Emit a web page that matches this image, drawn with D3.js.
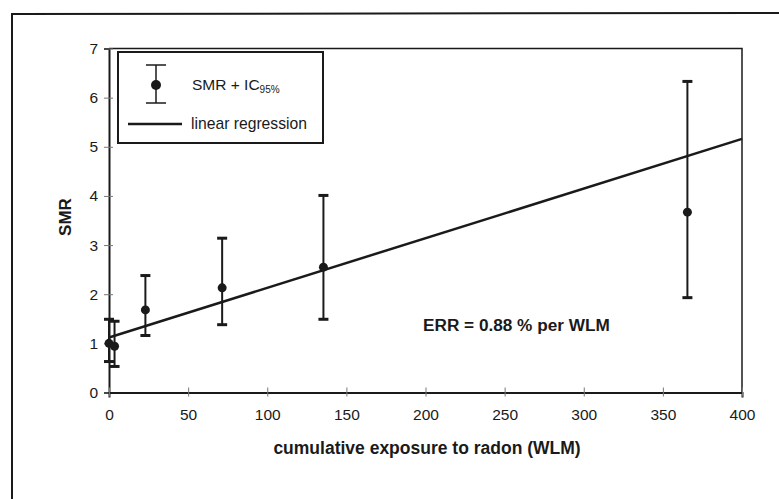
<!DOCTYPE html>
<html><head><meta charset="utf-8">
<script src="https://cdn.jsdelivr.net/npm/d3@7"></script>
<style>
html,body{margin:0;padding:0;background:#fff;}
svg{display:block;font-family:"Liberation Sans",Arial,sans-serif;}
</style></head>
<body>
<svg id="chart" width="779" height="499"></svg>
<script>
const exposure = [0, 3.5, 23, 71.5, 135.5, 365.5];
const smr      = [1.0, 0.94, 1.68, 2.13, 2.55, 3.67];
const ciLow    = [0.63, 0.53, 1.16, 1.38, 1.49, 1.93];
const ciHigh   = [1.49, 1.45, 2.38, 3.14, 4.01, 6.33];
const regX = [0, 400];
const regY = [1.12, 5.16];
const xTicks = [0, 50, 100, 150, 200, 250, 300, 350, 400];
const yTicks = [0, 1, 2, 3, 4, 5, 6, 7];

const svg = d3.select("#chart");
const ink = "#1a1a1a";
const ff = "Liberation Sans, Arial, sans-serif";

// outer frame
svg.append("path").attr("d","M12,505 L12,14 L790,13").attr("fill","none").attr("stroke",ink).attr("stroke-width",2);

const x = d3.scaleLinear().domain([0,400]).range([109,742]);
const y = d3.scaleLinear().domain([0,7]).range([392.5,48.5]);

// plot frame (top and right)
svg.append("path")
  .attr("d",`M${x(0)},${y(7)} L${x(400)},${y(7)} L${x(400)},${y(0)}`)
  .attr("fill","none").attr("stroke",ink).attr("stroke-width",1.5);

// y axis
const yAxis = svg.append("g").attr("transform",`translate(${x(0)},0)`)
  .call(d3.axisLeft(y).tickValues(yTicks).tickSize(5).tickFormat(d3.format("d")));
yAxis.select(".domain").attr("stroke",ink).attr("stroke-width",2);
yAxis.selectAll(".tick line").attr("x1",4).attr("x2",-5).attr("stroke","#777").attr("stroke-width",1);
yAxis.selectAll(".tick text").attr("x",-11).attr("font-size",15.5).attr("fill",ink).attr("font-family",ff);

// x axis
const xAxis = svg.append("g").attr("transform",`translate(0,${y(0)})`)
  .call(d3.axisBottom(x).tickValues(xTicks).tickSize(5).tickFormat(d3.format("d")));
xAxis.select(".domain").attr("stroke",ink).attr("stroke-width",2);
xAxis.selectAll(".tick line").attr("y1",-5).attr("y2",4).attr("stroke","#777").attr("stroke-width",1);
xAxis.selectAll(".tick text").attr("y",16).attr("font-size",15.5).attr("fill",ink).attr("font-family",ff);

// regression line
svg.append("line")
  .attr("x1",x(regX[0])).attr("y1",y(regY[0]))
  .attr("x2",x(regX[1])).attr("y2",y(regY[1]))
  .attr("stroke",ink).attr("stroke-width",2.5);

// error bars
const pts = exposure.map((e,i)=>({e, v:smr[i], lo:ciLow[i], hi:ciHigh[i]}));
const g = svg.append("g");
g.selectAll("line.err").data(pts).join("line").attr("class","err")
  .attr("x1",d=>x(d.e)).attr("x2",d=>x(d.e))
  .attr("y1",d=>y(d.lo)).attr("y2",d=>y(d.hi))
  .attr("stroke",ink).attr("stroke-width",2);
g.selectAll("line.capHi").data(pts).join("line").attr("class","capHi")
  .attr("x1",d=>x(d.e)-5).attr("x2",d=>x(d.e)+5)
  .attr("y1",d=>y(d.hi)).attr("y2",d=>y(d.hi))
  .attr("stroke",ink).attr("stroke-width",3);
g.selectAll("line.capLo").data(pts).join("line").attr("class","capLo")
  .attr("x1",d=>x(d.e)-5).attr("x2",d=>x(d.e)+5)
  .attr("y1",d=>y(d.lo)).attr("y2",d=>y(d.lo))
  .attr("stroke",ink).attr("stroke-width",3);
g.selectAll("circle").data(pts).join("circle")
  .attr("cx",d=>x(d.e)).attr("cy",d=>y(d.v)).attr("r",4.5).attr("fill",ink);

// legend
const lg = svg.append("g");
lg.append("rect").attr("x",118).attr("y",52).attr("width",205).attr("height",91)
  .attr("fill","#fff").attr("stroke",ink).attr("stroke-width",2);
lg.append("line").attr("x1",156).attr("x2",156).attr("y1",65).attr("y2",103).attr("stroke",ink).attr("stroke-width",1.5);
lg.append("line").attr("x1",146).attr("x2",166).attr("y1",65).attr("y2",65).attr("stroke",ink).attr("stroke-width",1.5);
lg.append("line").attr("x1",146).attr("x2",166).attr("y1",103).attr("y2",103).attr("stroke",ink).attr("stroke-width",1.5);
lg.append("circle").attr("cx",156).attr("cy",85).attr("r",5).attr("fill",ink);
const t1 = lg.append("text").attr("x",192).attr("y",90).attr("font-size",15.5).attr("fill",ink);
t1.append("tspan").text("SMR + IC");
t1.append("tspan").attr("font-size",10).attr("dy",3).text("95%");
lg.append("line").attr("x1",128).attr("x2",182).attr("y1",124).attr("y2",124).attr("stroke",ink).attr("stroke-width",2.5);
lg.append("text").attr("x",191).attr("y",129).attr("font-size",15.7).attr("fill",ink).text("linear regression");

// annotation
svg.append("text").attr("x",423).attr("y",331).attr("font-size",17.2).attr("font-weight","bold").attr("fill",ink)
  .text("ERR = 0.88 % per WLM");

// axis titles
svg.append("text").attr("x",427).attr("y",454).attr("text-anchor","middle").attr("font-size",17.5).attr("font-weight","bold").attr("fill",ink)
  .text("cumulative exposure to radon (WLM)");
svg.append("text").attr("transform","translate(71,217) rotate(-90)").attr("text-anchor","middle")
  .attr("font-size",17).attr("font-weight","bold").attr("fill",ink).text("SMR");
</script>
</body></html>
